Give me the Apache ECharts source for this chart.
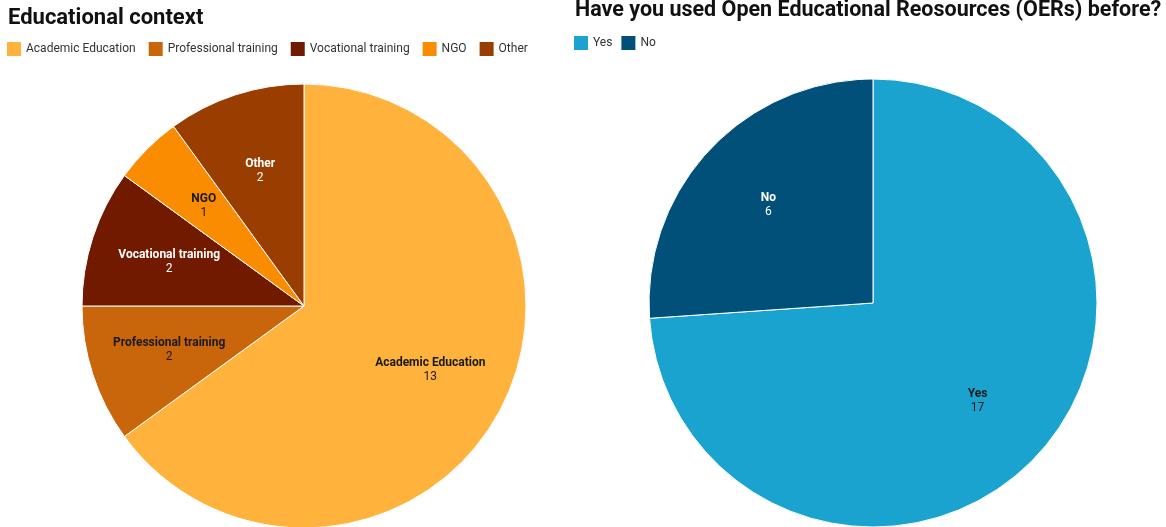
<!DOCTYPE html>
<html>
<head>
<meta charset="utf-8">
<script src="https://cdn.jsdelivr.net/npm/echarts@6/dist/echarts.min.js"></script>
<style>
  html, body { margin: 0; padding: 0; background: #fff; }
  #chart { width: 1166px; height: 527px; }
</style>
</head>
<body>
<div id="chart"></div>
<script>
const contextNames = ['Academic Education', 'Professional training', 'Vocational training', 'NGO', 'Other']
const contextValues = [13, 2, 2, 1, 2]
const contextColors = ['#ffb23c', '#c9650a', '#711a00', '#f98c00', '#9a3d00']
const contextLabelColors = ['#1a1a1a', '#1a1a1a', '#ffffff', '#1a1a1a', '#ffffff']

const oerNames = ['Yes', 'No']
const oerValues = [17, 6]
const oerColors = ['#1aa3cf', '#00507a']
const oerLabelColors = ['#1a1a1a', '#ffffff']

const chart = echarts.init(document.getElementById('chart'))

function pieData(names, values, colors, labelColors) {
  return names.map((n, i) => ({
    name: n,
    value: values[i],
    itemStyle: { color: colors[i] },
    label: { color: labelColors[i] }
  }))
}

const labelStyle = {
  show: true,
  position: 'inside',
  formatter: '{n|{b}}\n{v|{c}}',
  rich: {
    n: { fontFamily: 'Roboto', fontSize: 12, fontWeight: 'bold', lineHeight: 14 },
    v: { fontFamily: 'Roboto', fontSize: 12, lineHeight: 14 }
  }
}

function pieSeries(names, values, colors, labelColors, center, r) {
  const data = pieData(names, values, colors, labelColors)
  return [
    {
      type: 'pie',
      center,
      radius: [0, r],
      silent: true,
      label: { show: false },
      labelLine: { show: false },
      itemStyle: { borderColor: '#ffffff', borderWidth: 1 },
      data
    },
    {
      // transparent ring only to place the labels further out
      type: 'pie',
      center,
      radius: [r * 0.25, r],
      silent: true,
      legendHoverLink: false,
      label: labelStyle,
      labelLine: { show: false },
      data: data.map((d) => ({ ...d, itemStyle: { color: 'rgba(0,0,0,0)', borderWidth: 0 } }))
    }
  ]
}

function legendData(names, colors) {
  return names.map((n, i) => ({ name: n, itemStyle: { color: colors[i], borderWidth: 0 } }))
}

chart.setOption({
  animation: false,
  title: [
    { text: 'Educational context', left: 8, top: 7, padding: 0, textStyle: { fontFamily: 'Roboto', fontSize: 22, fontWeight: 'bold', color: '#111' } },
    { text: 'Have you used Open Educational Reosources (OERs) before?', left: 575, top: 0, padding: 0, textStyle: { fontFamily: 'Roboto', fontSize: 21.5, fontWeight: 'bold', color: '#111' } }
  ],
  legend: [
    {
      data: legendData(contextNames, contextColors),
      left: 7, top: 42, padding: 0, itemWidth: 14, itemHeight: 14, itemGap: 13, icon: 'rect',
      itemStyle: { borderWidth: 0 },
      textStyle: { fontFamily: 'Roboto', fontSize: 12, color: '#333' }
    },
    {
      data: legendData(oerNames, oerColors),
      left: 574, top: 36, padding: 0, itemWidth: 14, itemHeight: 14, itemGap: 9, icon: 'rect',
      itemStyle: { borderWidth: 0 },
      textStyle: { fontFamily: 'Roboto', fontSize: 12, color: '#333' }
    }
  ],
  series: [
    ...pieSeries(contextNames, contextValues, contextColors, contextLabelColors, [304, 306], 222),
    ...pieSeries(oerNames, oerValues, oerColors, oerLabelColors, [873, 303], 224)
  ]
})
</script>
</body>
</html>
